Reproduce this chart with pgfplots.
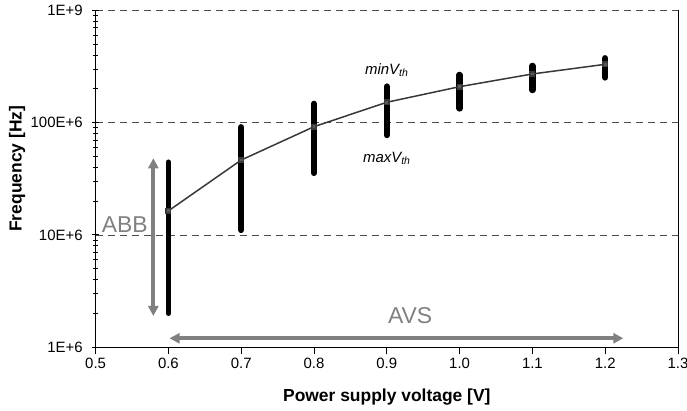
\documentclass[border=0pt]{standalone}
\usepackage{fontspec}
\setmainfont{Liberation Sans}
\usepackage{pgfplots}
\pgfplotsset{compat=1.18}
\usetikzlibrary{arrows.meta}
\definecolor{arrowgray}{HTML}{808080}
\definecolor{linegray}{HTML}{383838}
\begin{document}
\begin{tikzpicture}
\begin{axis}[
  at={(0,0)}, anchor=south west,
  scale only axis, width=582.4bp, height=336.9bp,
  xmin=0.5, xmax=1.3, ymode=log, ymin=1e6, ymax=1e9,
  axis line style={draw=none},
  xtick pos=bottom, ytick pos=left,
  xtick={0.5,0.6,0.7,0.8,0.9,1.0,1.1,1.2,1.3},
  xticklabels={0.5,0.6,0.7,0.8,0.9,1.0,1.1,1.2,1.3},
  ytick={1e6,1e7,1e8,1e9},
  yticklabels={1E+6,10E+6,100E+6,1E+9},
  minor ytick={2e6,3e6,4e6,5e6,6e6,7e6,8e6,9e6,2e7,3e7,4e7,5e7,6e7,7e7,8e7,9e7,2e8,3e8,4e8,5e8,6e8,7e8,8e8,9e8},
  xtick align=outside, ytick align=center,
  major tick length=7bp, minor tick length=5bp,
  every tick/.style={draw=black, line width=1bp},
  ymajorgrids,
  grid style={dash pattern=on 7bp off 5bp, line width=0.75bp, black!70},
  tick label style={font=\fontsize{15}{18}\selectfont},
  yticklabel style={xshift=-6bp},
  xlabel={Power supply voltage [V]},
  ylabel={Frequency [Hz]},
  every axis x label/.style={at={(rel axis cs:0.5,0)}, anchor=center, yshift=-49.7bp,
    font=\fontsize{17.5}{20}\selectfont\bfseries},
  every axis y label/.style={at={(rel axis cs:0,0.53)}, xshift=-78.6bp, rotate=90, anchor=center,
    font=\fontsize{17.5}{20}\selectfont\bfseries},
  clip=false,
]
% frame: left, bottom, right (top is the dashed grid line)
\draw[black, line width=1bp] (rel axis cs:0,1) -- (rel axis cs:0,0) -- (rel axis cs:1,0) -- (rel axis cs:1,1);
% vertical ranges of the simulated frequencies
\addplot[black, line width=5bp, line cap=round, forget plot] coordinates {(0.6,2.0e6) (0.6,44.7e6)};
\addplot[black, line width=6.5bp, line cap=round, forget plot] coordinates {(0.7,11.1e6) (0.7,91e6)};
\addplot[black, line width=6bp, line cap=round, forget plot] coordinates {(0.8,35.6e6) (0.8,147.6e6)};
\addplot[black, line width=6.5bp, line cap=round, forget plot] coordinates {(0.9,77.7e6) (0.9,209.6e6)};
\addplot[black, line width=6.5bp, line cap=round, forget plot] coordinates {(1.0,134.1e6) (1.0,265.9e6)};
\addplot[black, line width=6.5bp, line cap=round, forget plot] coordinates {(1.1,195.5e6) (1.1,319.9e6)};
\addplot[black, line width=6.5bp, line cap=round, forget plot] coordinates {(1.2,253.2e6) (1.2,374.5e6)};
% nominal curve
\addplot[linegray, line width=1.5bp, mark=square*, mark size=2.2bp,
  mark options={fill=black!65, draw=none}] coordinates {
  (0.6,16.4e6) (0.7,46.5e6) (0.8,92.1e6) (0.9,152e6) (1.0,209.2e6) (1.1,271.5e6) (1.2,331e6)};
% annotations
\draw[arrowgray, line width=4bp, {Triangle[width=10bp,length=10bp]}-{Triangle[width=10bp,length=10bp]}]
  (axis cs:0.5793,1.90e6) -- (axis cs:0.5793,48.2e6);
\draw[arrowgray, line width=4bp, {Triangle[width=10bp,length=10bp]}-{Triangle[width=10bp,length=10bp]}]
  (axis cs:0.6016,1.203e6) -- (axis cs:1.2249,1.203e6);
\node[text=arrowgray, font=\fontsize{23}{26}\selectfont] at (axis cs:0.540,12.3e6) {ABB};
\node[text=arrowgray, font=\fontsize{23}{26}\selectfont] at (axis cs:0.932,1.9e6) {AVS};
\node[font=\fontsize{15}{18}\selectfont\itshape] at (axis cs:0.9,294e6) {minV\textsubscript{th}};
\node[font=\fontsize{15}{18}\selectfont\itshape] at (axis cs:0.9,48e6) {maxV\textsubscript{th}};
\end{axis}
\pgfresetboundingbox
\path[use as bounding box] (-95.6bp,-63.7bp) rectangle (591.4bp,347.3bp);
\end{tikzpicture}
\end{document}
